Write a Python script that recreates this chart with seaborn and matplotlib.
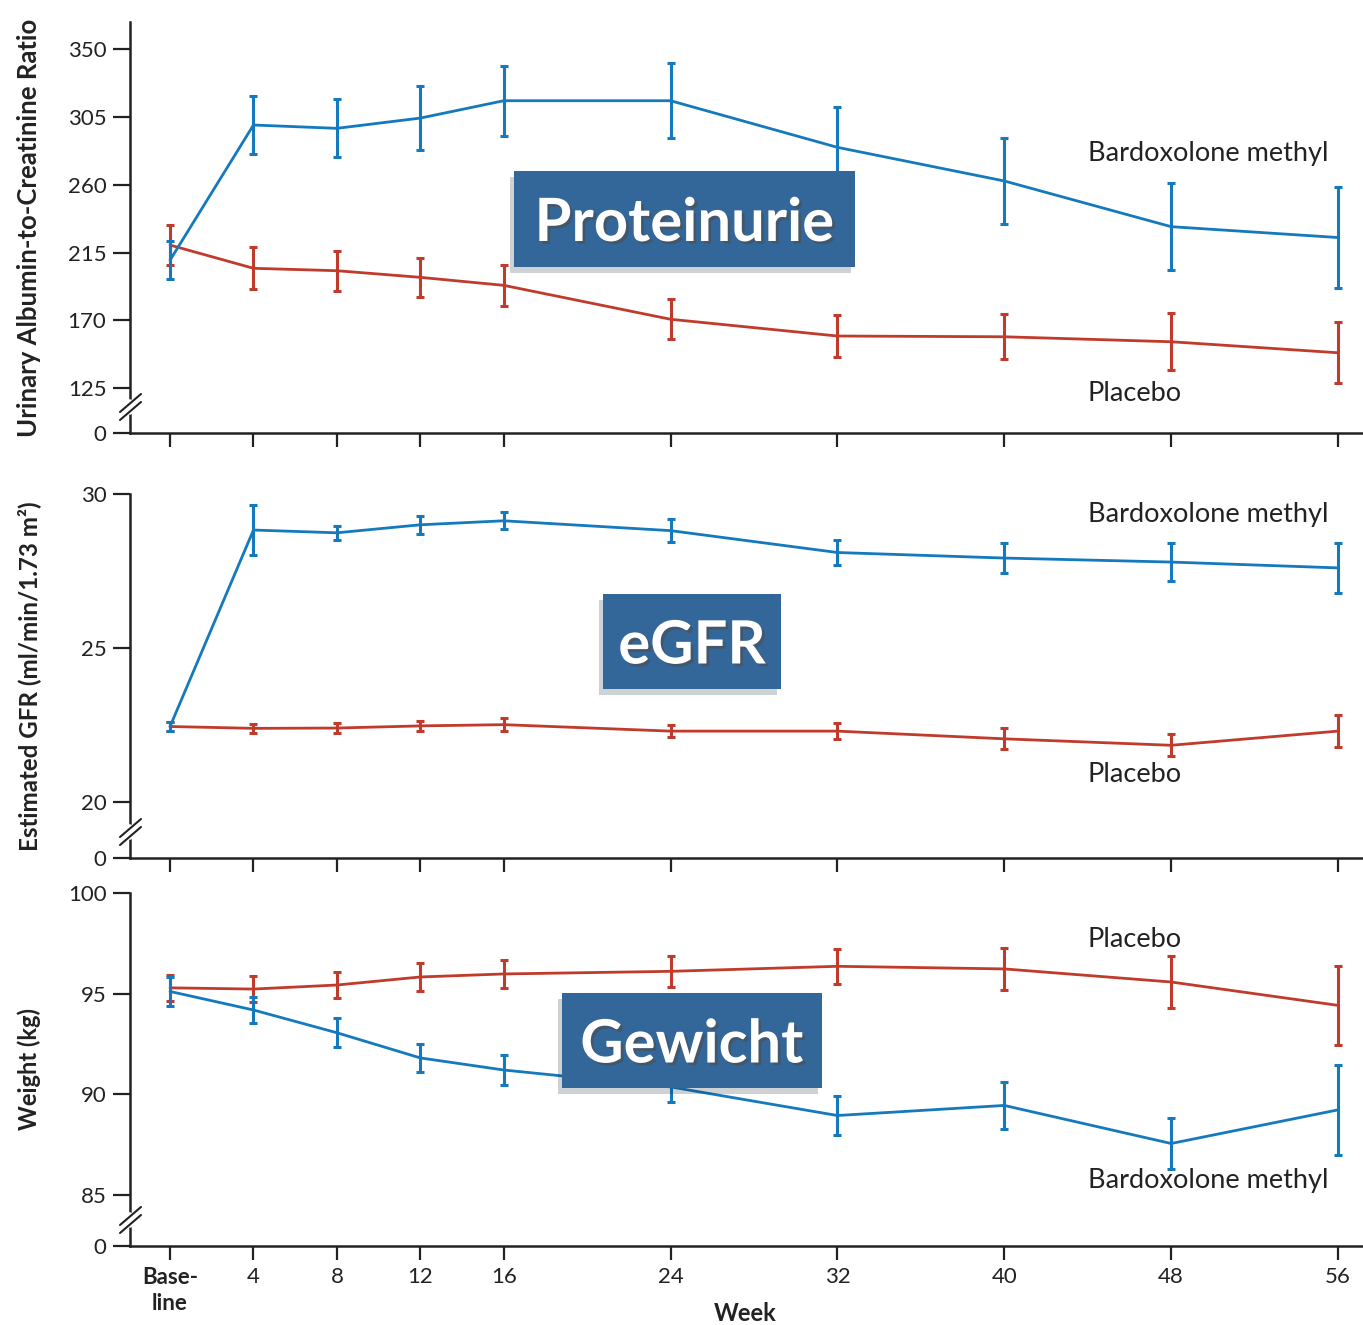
import matplotlib
matplotlib.use("Agg")
import matplotlib.pyplot as plt
import matplotlib.patheffects as pe
from matplotlib.patches import Rectangle
from matplotlib.lines import Line2D
import seaborn as sns
import pandas as pd

# Wochen (Baseline = 0)
weeks = [0, 4, 8, 12, 16, 24, 32, 40, 48, 56]
week_labels = ["Base-\nline", "4", "8", "12", "16", "24", "32", "40", "48", "56"]

# Urinary albumin-to-creatinine ratio
uacr_bard = [210, 299.6, 297.4, 304.2, 315.7, 315.7, 284.8, 262.5, 232.2, 225]
uacr_bard_err = [12.8, 19, 19.2, 21.4, 23.2, 25, 26.9, 28.4, 28.8, 33.2]
uacr_plac = [220, 204.6, 203, 198.6, 193.3, 170.8, 159.7, 159.2, 155.9, 148.6]
uacr_plac_err = [13.4, 13.9, 13.3, 13, 13.5, 13.3, 14.1, 14.9, 19, 20.3]
uacr_ticks = [125, 170, 215, 260, 305, 350]

# eGFR
egfr_bard = [22.45, 28.83, 28.74, 29.0, 29.13, 28.81, 28.1, 27.92, 27.79, 27.6]
egfr_bard_err = [0.16, 0.8, 0.23, 0.29, 0.28, 0.37, 0.41, 0.49, 0.61, 0.82]
egfr_plac = [22.45, 22.39, 22.4, 22.47, 22.51, 22.3, 22.3, 22.05, 21.84, 22.3]
egfr_plac_err = [0.16, 0.15, 0.15, 0.17, 0.2, 0.2, 0.25, 0.34, 0.36, 0.52]
egfr_ticks = [20, 25, 30]

# Gewicht
wt_bard = [95.11, 94.19, 93.06, 91.81, 91.21, 90.37, 88.95, 89.45, 87.56, 89.23]
wt_bard_err = [0.7, 0.65, 0.71, 0.7, 0.75, 0.76, 0.95, 1.15, 1.28, 2.23]
wt_plac = [95.29, 95.23, 95.43, 95.83, 95.98, 96.11, 96.36, 96.23, 95.58, 94.42]
wt_plac_err = [0.63, 0.63, 0.65, 0.7, 0.68, 0.76, 0.88, 1.03, 1.28, 1.96]
wt_ticks = [85, 90, 95, 100]

BLUE = "#1479bd"
RED = "#c03b2b"
BOX = "#33679a"
INK = "#222222"

sns.set_style("white")
plt.rcParams["font.family"] = ["Lato", "DejaVu Sans"]

W, H = 1363, 1325
fig = plt.figure(figsize=(W / 100, H / 100), dpi=100)


def panel(top, bottom, ylo, yhi, ticks, ylabel, ylabel_size, bard, bard_err,
          plac, plac_err, bard_txt_y, plac_txt_y, show_x=False):
    ax = fig.add_axes([130 / W, 1 - bottom / H, 1233 / W, (bottom - top) / H])
    df = pd.DataFrame({
        "week": weeks * 2,
        "value": plac + bard,
        "group": ["Placebo"] * len(weeks) + ["Bardoxolone methyl"] * len(weeks),
    })
    sns.lineplot(data=df, x="week", y="value", hue="group",
                 palette={"Placebo": RED, "Bardoxolone methyl": BLUE},
                 linewidth=2, legend=False, ax=ax)
    ax.errorbar(weeks, plac, yerr=plac_err, fmt="none", ecolor=RED,
                elinewidth=2.2, capsize=3, capthick=2.2, clip_on=False)
    ax.errorbar(weeks, bard, yerr=bard_err, fmt="none", ecolor=BLUE,
                elinewidth=2.2, capsize=3, capthick=2.2, clip_on=False)

    ax.set_xlim(-1.92, 57.2)
    ax.set_ylim(ylo, yhi)
    ax.set_yticks([ylo] + ticks)
    ax.set_yticklabels(["0"] + [str(t) for t in ticks], fontsize=16, color=INK)
    ax.set_xticks(weeks)
    if show_x:
        ax.set_xticklabels(week_labels, fontsize=16, color=INK, linespacing=1.3)
        ax.get_xticklabels()[0].set_fontweight("bold")
        ax.set_xlabel("Week", fontsize=17, fontweight="bold", color=INK)
        ax.xaxis.set_label_coords(0.499, -0.158)
    else:
        ax.set_xticklabels([])
        ax.set_xlabel("")
    ax.set_ylabel(ylabel, fontsize=ylabel_size, fontweight="bold", color=INK)
    ax.yaxis.set_label_coords(-0.072, 0.5)

    ax.tick_params(axis="y", direction="out", length=12, width=1.6,
                   color=INK, left=True, pad=5)
    ax.tick_params(axis="x", direction="out", length=10, width=1.6,
                   color=INK, bottom=True, pad=5)
    for s in ["top", "right"]:
        ax.spines[s].set_visible(False)
    for s in ["left", "bottom"]:
        ax.spines[s].set_linewidth(1.8)
        ax.spines[s].set_color(INK)

    ax.text(44.0, bard_txt_y, "Bardoxolone methyl", fontsize=19.5, va="center",
            ha="left", color=INK)
    ax.text(44.0, plac_txt_y, "Placebo", fontsize=19.5, va="center",
            ha="left", color=INK)

    # Achsenbruch
    yb = bottom - 26
    fig.add_artist(Line2D([130 / W, 130 / W], [1 - (yb + 5) / H, 1 - (yb - 5) / H],
                          color="white", lw=4))
    for d in (-4, 4):
        fig.add_artist(Line2D([120 / W, 141 / W],
                              [1 - (yb + d + 9) / H, 1 - (yb + d - 9) / H],
                              color=INK, lw=1.5))
    return ax


panel(22, 433, 95.4, 367.9, uacr_ticks, "Urinary Albumin-to-Creatinine Ratio", 18.5,
      uacr_bard, uacr_bard_err, uacr_plac, uacr_plac_err, 280.8, 121.8)
panel(494, 858, 18.18, 30, egfr_ticks, "Estimated GFR (ml/min/1.73 m²)", 17.4,
      egfr_bard, egfr_bard_err, egfr_plac, egfr_plac_err, 29.35, 20.88)
panel(893, 1246, 82.47, 100, wt_ticks, "Weight (kg)", 17,
      wt_bard, wt_bard_err, wt_plac, wt_plac_err, 85.74, 97.67, show_x=True)

# Beschriftungskästen
boxes = [("Proteinurie", 514, 171, 855, 267),
         ("eGFR", 603, 594, 781, 689),
         ("Gewicht", 562, 993, 822, 1088)]
for txt, x0, y0, x1, y1 in boxes:
    r = Rectangle((x0 / W, 1 - y1 / H), (x1 - x0) / W, (y1 - y0) / H,
                  transform=fig.transFigure, fc=BOX, ec="none", zorder=10)
    r.set_path_effects([pe.SimplePatchShadow(offset=(-3, -4), alpha=0.2), pe.Normal()])
    fig.add_artist(r)
    fig.text((x0 + x1) / 2 / W, 1 - (y0 + y1) / 2 / H, txt, color="white",
             fontsize=43, fontweight="bold", ha="center", va="center_baseline",
             zorder=11,
             path_effects=[pe.withSimplePatchShadow(offset=(2, -2), alpha=0.6)])

fig.savefig("out.png", dpi=100, facecolor="white")
